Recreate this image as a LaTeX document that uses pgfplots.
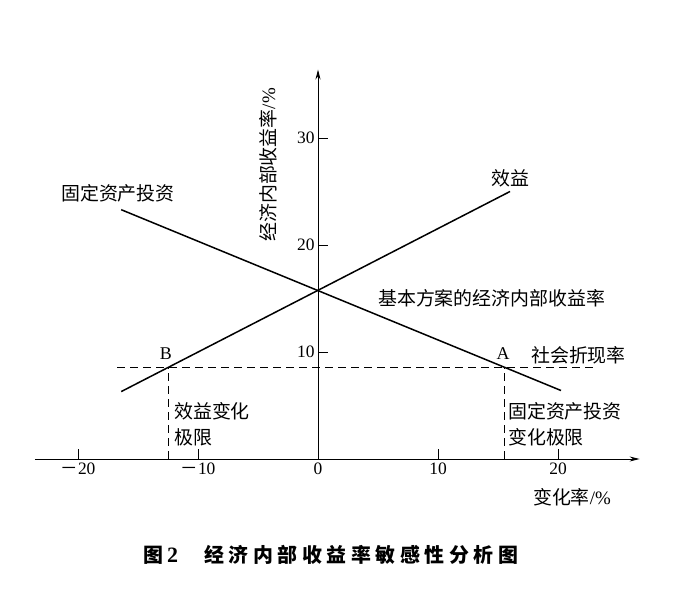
\documentclass[border=0pt]{standalone}
\usepackage{fontspec}
\setmainfont{Liberation Serif}
\newfontfamily\cjk{Noto Sans CJK SC}
\newfontfamily\cjktitle[LetterSpace=23]{Noto Sans CJK SC}
\usepackage{pgfplots}
\pgfplotsset{compat=1.18}
\usetikzlibrary{arrows.meta}
\begin{document}
\begin{tikzpicture}
\useasboundingbox (0,0) rectangle (700bp,610bp);
\begin{axis}[
  at={(318bp,151bp)}, anchor=origin,
  x=12bp, y=10.7bp,
  xmin=-23.6, xmax=26.8, ymin=0, ymax=36.4,
  axis lines=middle,
  axis line style={line width=0.9bp, -{Stealth[length=10bp,width=5bp]}},
  xtick={-20,-10,0,10,20},
  xticklabels={{\cjk －}20,{\cjk －}10,0,10,20},
  ytick={10,20,30},
  hide obscured x ticks=false,
  tick align=inside,
  major tick length=10bp,
  tick style={black, line width=0.9bp},
  tick label style={font=\fontsize{17.5}{17.5}\selectfont},
  /pgf/number format/assume math mode=true,
  clip=false,
]
\addplot[black, line width=1.5bp] coordinates {(-16.4,6.3) (16,25.0)};
\addplot[black, line width=1.5bp] coordinates {(-16.4,23.3) (20.25,6.4)};
\addplot[black, line width=0.9bp, dash pattern=on 8bp off 5bp] coordinates {(-16.75,8.55) (23.3,8.55)};
\addplot[black, line width=0.9bp, dash pattern=on 8bp off 5bp] coordinates {(-12.5,0) (-12.5,8.55)};
\addplot[black, line width=0.9bp, dash pattern=on 8bp off 5bp] coordinates {(15.55,0) (15.55,8.55)};

\node[font=\cjk\fontsize{19}{26}\selectfont] at (axis cs:-16.67,24.86) {固定资产投资};
\node[font=\cjk\fontsize{19}{26}\selectfont] at (axis cs:16.0,26.26) {效益};
\node[font=\cjk\fontsize{19}{26}\selectfont, anchor=west, inner sep=0pt] at (axis cs:5.0,15.05) {基本方案的经济内部收益率};
\node[font=\cjk\fontsize{19}{26}\selectfont, anchor=west, inner sep=0pt] at (axis cs:17.75,9.72) {社会折现率};
\node[font=\fontsize{18}{18}\selectfont] at (axis cs:-12.67,9.81) {B};
\node[font=\fontsize{18}{18}\selectfont] at (axis cs:15.42,9.81) {A};
\node[font=\cjk\fontsize{19}{26}\selectfont, anchor=west, inner sep=0pt, align=left] at (axis cs:-12.0,3.27) {效益变化\\极限};
\node[font=\cjk\fontsize{19}{26}\selectfont, anchor=west, inner sep=0pt, align=left] at (axis cs:15.83,3.27) {固定资产投资\\变化极限};
\node[font=\fontsize{19}{19}\selectfont] at (axis cs:21.17,-3.55) {{\cjk 变化率}/\%};
\node[font=\fontsize{19}{19}\selectfont, rotate=90] at (axis cs:-4.17,27.48) {{\cjk 经济内部收益率}/\%};
\end{axis}
\node[anchor=west, inner sep=0pt, font=\fontsize{20}{20}\selectfont] at (143bp,55bp) {{\cjk\bfseries 图}\hspace{4bp}\textbf{\fontsize{22}{22}\selectfont 2}\hspace{26bp}{\cjktitle\bfseries 经济内部收益率敏感性分析图}};
\end{tikzpicture}
\end{document}
